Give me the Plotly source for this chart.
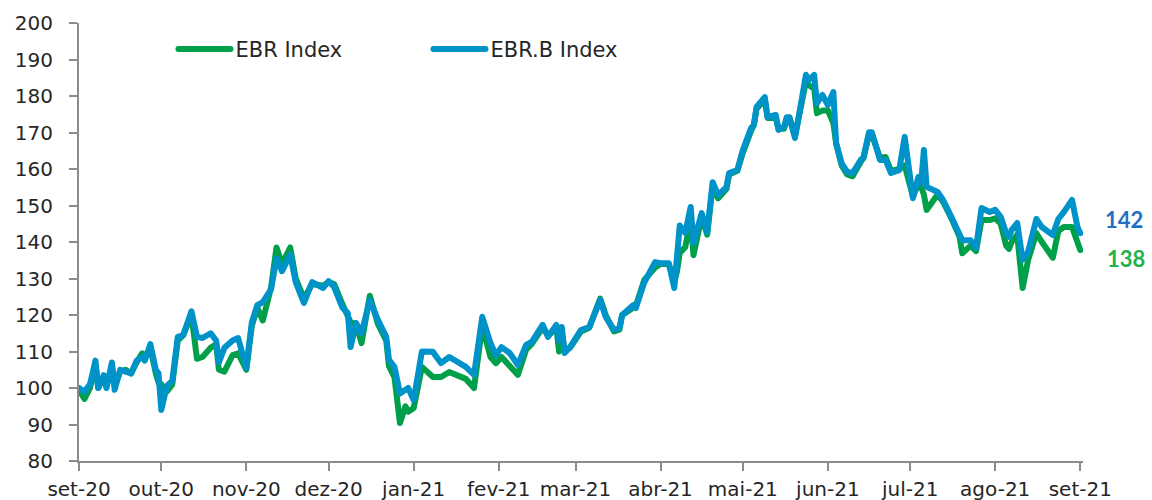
import plotly.graph_objects as go

# ---------------- data ----------------
dates = [
    "2020-09-01", "2020-09-03", "2020-09-05", "2020-09-07", "2020-09-08", "2020-09-10",
    "2020-09-11", "2020-09-13", "2020-09-14", "2020-09-16", "2020-09-18", "2020-09-20",
    "2020-09-22", "2020-09-24", "2020-09-25", "2020-09-27", "2020-09-29", "2020-09-30",
    "2020-10-01", "2020-10-03", "2020-10-05", "2020-10-07", "2020-10-09", "2020-10-12",
    "2020-10-14", "2020-10-16", "2020-10-19", "2020-10-21", "2020-10-22", "2020-10-24",
    "2020-10-27", "2020-10-29", "2020-11-01", "2020-11-03", "2020-11-05", "2020-11-07",
    "2020-11-10", "2020-11-12", "2020-11-14", "2020-11-17", "2020-11-19", "2020-11-22",
    "2020-11-25", "2020-11-29", "2020-12-01", "2020-12-03", "2020-12-06", "2020-12-08",
    "2020-12-09", "2020-12-11", "2020-12-13", "2020-12-16", "2020-12-19", "2020-12-22",
    "2020-12-23", "2020-12-25", "2020-12-27", "2020-12-29", "2020-12-30", "2021-01-01",
    "2021-01-04", "2021-01-08", "2021-01-11", "2021-01-14", "2021-01-18", "2021-01-20",
    "2021-01-23", "2021-01-26", "2021-01-29", "2021-01-31", "2021-02-02", "2021-02-05",
    "2021-02-08", "2021-02-11", "2021-02-13", "2021-02-17", "2021-02-19", "2021-02-20",
    "2021-02-22", "2021-02-23", "2021-02-24", "2021-02-25", "2021-02-27", "2021-03-03",
    "2021-03-06", "2021-03-10", "2021-03-12", "2021-03-15", "2021-03-17", "2021-03-18",
    "2021-03-22", "2021-03-23", "2021-03-26", "2021-03-30", "2021-04-01", "2021-04-04",
    "2021-04-06", "2021-04-07", "2021-04-08", "2021-04-10", "2021-04-12", "2021-04-13",
    "2021-04-16", "2021-04-18", "2021-04-20", "2021-04-22", "2021-04-25", "2021-04-26",
    "2021-04-29", "2021-05-01", "2021-05-04", "2021-05-05", "2021-05-06", "2021-05-09",
    "2021-05-10", "2021-05-13", "2021-05-14", "2021-05-16", "2021-05-17", "2021-05-18",
    "2021-05-20", "2021-05-22", "2021-05-24", "2021-05-25", "2021-05-27", "2021-05-28",
    "2021-05-30", "2021-06-01", "2021-06-03", "2021-06-04", "2021-06-06", "2021-06-08",
    "2021-06-10", "2021-06-13", "2021-06-14", "2021-06-16", "2021-06-17", "2021-06-20",
    "2021-06-22", "2021-06-24", "2021-06-27", "2021-06-29", "2021-07-02", "2021-07-04",
    "2021-07-05", "2021-07-06", "2021-07-07", "2021-07-11", "2021-07-13", "2021-07-16",
    "2021-07-19", "2021-07-20", "2021-07-23", "2021-07-25", "2021-07-27", "2021-07-30",
    "2021-08-01", "2021-08-03", "2021-08-05", "2021-08-06", "2021-08-07", "2021-08-09",
    "2021-08-11", "2021-08-13", "2021-08-16", "2021-08-18", "2021-08-22", "2021-08-24",
    "2021-08-26", "2021-08-29", "2021-08-31", "2021-09-01",
]

ebrb_index = [
    100.0, 99.0, 101.0, 107.5, 100.0, 103.5,
    100.0, 107.0, 99.5, 105.0, 104.5, 104.0,
    107.5, 108.5, 107.5, 112.0, 105.0, 104.0,
    94.0, 100.5, 102.0, 114.0, 114.5, 121.0,
    114.0, 113.7, 115.0, 113.0, 107.0, 111.0,
    113.0, 113.7, 105.5, 118.0, 122.7, 123.5,
    127.0, 135.5, 132.0, 136.5, 129.0, 123.3,
    129.0, 127.4, 129.3, 127.7, 122.0, 120.5,
    111.2, 117.8, 115.0, 124.0, 118.6, 114.0,
    107.7, 105.8, 98.5, 99.5, 100.0, 96.7,
    110.0, 109.9, 106.8, 108.5, 106.8, 105.8,
    103.6, 119.5, 112.3, 109.0, 111.2, 109.6,
    106.3, 111.8, 112.6, 117.3, 114.0, 115.3,
    117.3, 113.0, 116.7, 109.6, 111.2, 115.9,
    116.7, 124.1, 119.5, 115.9, 116.4, 120.0,
    122.7, 121.9, 128.8, 134.5, 134.2, 134.2,
    127.4, 136.0, 144.5, 142.5, 149.6, 139.7,
    147.9, 142.7, 156.4, 152.9, 155.0, 158.9,
    159.7, 165.2, 171.2, 172.0, 177.0, 179.7,
    174.2, 174.8, 170.7, 171.5, 174.2, 174.2,
    168.5, 177.0, 185.8, 184.4, 185.8, 178.0,
    180.3, 177.5, 181.1, 167.1, 161.6, 159.2,
    158.9, 162.5, 163.3, 170.1, 170.1, 162.5,
    162.5, 158.9, 159.7, 168.8, 152.0, 157.8,
    156.2, 165.2, 155.1, 153.7, 151.5, 146.9,
    142.7, 140.5, 140.5, 138.4, 149.3, 148.2,
    148.8, 146.9, 142.4, 141.4, 143.3, 145.2,
    135.1, 137.3, 146.3, 144.1, 141.9, 146.3,
    148.2, 151.5, 144.1, 142.4,
]

ebr_index = [
    99.5, 97.0, 100.0, 106.5, 100.0, 103.0,
    100.5, 106.0, 100.5, 104.5, 105.0, 104.0,
    107.0, 109.5, 108.5, 111.0, 104.0, 101.5,
    101.0, 99.0, 101.0, 113.0, 114.5, 120.0,
    108.0, 108.5, 111.0, 112.0, 105.0, 104.5,
    109.0, 109.5, 105.0, 117.0, 122.0, 118.5,
    127.5, 138.5, 134.0, 138.5, 130.0, 124.5,
    128.5, 128.0, 129.0, 128.5, 123.0, 120.0,
    118.0, 117.5, 112.3, 125.3, 117.5, 113.0,
    106.0, 103.0, 90.4, 95.0, 93.5, 94.5,
    105.8, 103.0, 103.0, 104.4, 103.0, 102.5,
    100.0, 117.0, 108.5, 106.8, 108.5, 106.0,
    103.6, 110.5, 112.0, 116.5, 114.5, 115.0,
    116.8, 110.0, 115.0, 110.5, 111.0, 115.5,
    116.5, 124.5, 120.0, 115.5, 116.0, 120.0,
    122.0, 122.5, 129.5, 133.0, 134.0, 134.0,
    129.0, 132.0, 137.0, 138.6, 146.0, 136.4,
    147.0, 142.0, 155.5, 152.0, 154.5, 158.5,
    159.5, 164.5, 170.5, 172.0, 176.5, 179.0,
    174.0, 174.0, 171.0, 171.0, 173.5, 174.0,
    169.0, 176.5, 184.0, 183.0, 182.0, 175.3,
    176.0, 176.0, 172.6, 167.0, 161.0, 158.5,
    158.0, 162.0, 163.0, 169.5, 169.5, 163.0,
    163.3, 159.5, 160.0, 161.0, 152.5, 156.0,
    155.0, 153.0, 148.8, 153.0, 151.0, 146.5,
    141.4, 136.9, 139.0, 137.5, 146.0, 146.0,
    146.5, 145.0, 139.0, 138.1, 140.0, 142.0,
    127.4, 135.1, 142.4, 140.0, 135.7, 143.0,
    144.1, 144.1, 139.7, 137.8,
]

series_names = ["EBR Index", "EBR.B Index"]

tick_dates = [
    "2020-09-01", "2020-10-01", "2020-11-01", "2020-12-01", "2021-01-01", "2021-02-01",
    "2021-03-01", "2021-04-01", "2021-05-01", "2021-06-01", "2021-07-01", "2021-08-01",
    "2021-09-01",
]
tick_labels = [
    "set-20", "out-20", "nov-20", "dez-20", "jan-21", "fev-21", "mar-21", "abr-21",
    "mai-21", "jun-21", "jul-21", "ago-21", "set-21",
]

# ---------------- styles ----------------
GREEN = "#00A04A"
BLUE = "#0093C9"
GREEN_LABEL = "#22B14C"
BLUE_LABEL = "#1F6FC4"
AXIS_GREY = "#8C8C8C"
TEXT = "#262626"
FONT = "DejaVu Sans"

fig = go.Figure()
fig.add_trace(go.Scatter(
    x=dates, y=ebr_index, mode="lines", name=series_names[0],
    line=dict(color=GREEN, width=6),
))
fig.add_trace(go.Scatter(
    x=dates, y=ebrb_index, mode="lines", name=series_names[1],
    line=dict(color=BLUE, width=6),
))

# end-of-series value labels
fig.add_annotation(
    x=dates[-1], y=ebrb_index[-1], xref="x", yref="y",
    text=f"<b>{round(ebrb_index[-1])}</b>", showarrow=False,
    xanchor="left", yanchor="middle", xshift=23, yshift=14,
    font=dict(family="Lato", size=22, color=BLUE_LABEL),
)
fig.add_annotation(
    x=dates[-1], y=ebr_index[-1], xref="x", yref="y",
    text=f"<b>{round(ebr_index[-1])}</b>", showarrow=False,
    xanchor="left", yanchor="middle", xshift=25, yshift=-8,
    font=dict(family="Lato", size=22, color=GREEN_LABEL),
)

fig.update_layout(
    width=1152, height=500,
    margin=dict(l=79, r=69, t=23, b=39, autoexpand=False),
    paper_bgcolor="white", plot_bgcolor="white",
    font=dict(family=FONT, size=20, color=TEXT),
    showlegend=True,
    legend=dict(
        orientation="h", x=0.116, y=0.94, xanchor="left", yanchor="middle",
        font=dict(family=FONT, size=21, color=TEXT),
        bgcolor="rgba(0,0,0,0)", entrywidth=210, traceorder="normal",
    ),
    xaxis=dict(
        type="date", range=["2020-09-01", "2021-09-02"],
        tickmode="array", tickvals=tick_dates, ticktext=tick_labels,
        showline=True, linecolor=AXIS_GREY, linewidth=2,
        ticks="outside", ticklen=8, tickwidth=2, tickcolor=AXIS_GREY,
        showgrid=False, zeroline=False, automargin=False,
        tickfont=dict(family=FONT, size=20, color=TEXT),
        ticklabelstandoff=1,
    ),
    yaxis=dict(
        range=[80, 200], tickmode="linear", tick0=80, dtick=10,
        showline=True, linecolor=AXIS_GREY, linewidth=2,
        ticks="outside", ticklen=8, tickwidth=2, tickcolor=AXIS_GREY,
        showgrid=False, zeroline=False, automargin=False,
        tickfont=dict(family=FONT, size=20, color=TEXT),
        ticklabelstandoff=12,
    ),
)

post = (
    "document.body.style.margin='0px';"
    "document.body.style.overflow='hidden';"
    "document.querySelectorAll('.scatterlayer .js-line').forEach(function(p){"
    "p.style.strokeLinejoin='round';p.style.strokeLinecap='round';});"
    "document.querySelectorAll('.legend .scrollbox').forEach(function(g){"
    "g.removeAttribute('clip-path');});"
    "document.querySelectorAll('.legendlines path').forEach(function(p){"
    "p.setAttribute('d','M-17,0h52');p.style.strokeLinecap='round';});"
)

fig.write_html("out.html", config={"displayModeBar": False}, post_script=post)
